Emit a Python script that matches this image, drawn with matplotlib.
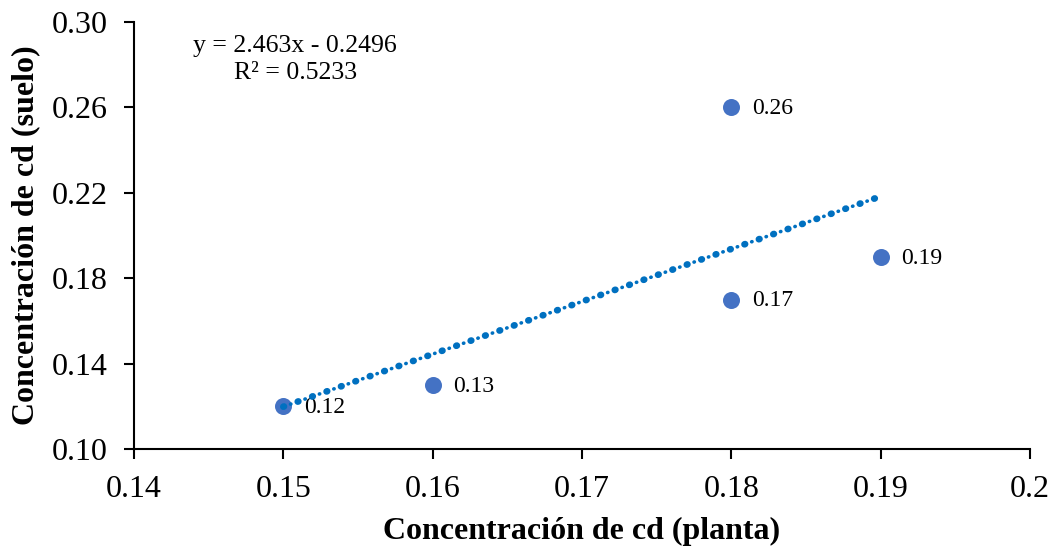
import numpy as np
from matplotlib import pyplot as plt

plt.rcParams['font.family'] = ['Liberation Serif', 'DejaVu Serif']

planta = [0.15, 0.16, 0.18, 0.18, 0.19]
suelo = [0.12, 0.13, 0.17, 0.26, 0.19]
etiquetas = ["0.12", "0.13", "0.17", "0.26", "0.19"]
xticks = [0.14, 0.15, 0.16, 0.17, 0.18, 0.19, 0.2]
xticklabels = ["0.14", "0.15", "0.16", "0.17", "0.18", "0.19", "0.2"]
yticks = [0.10, 0.14, 0.18, 0.22, 0.26, 0.30]
yticklabels = ["0.10", "0.14", "0.18", "0.22", "0.26", "0.30"]

fig = plt.figure(figsize=(10.53, 5.52), dpi=100)
ax = fig.add_axes([134 / 1053, 1 - 449 / 552, (1030 - 134) / 1053, (449 - 22) / 552])

ax.scatter(planta, suelo, s=150, color="#4472C4", zorder=3, linewidths=0)

# linea de tendencia (minimos cuadrados), puntos grandes y chicos alternados
m, b = np.polyfit(planta, suelo, 1)
xt = np.array([min(planta), max(planta)])
lw_big, lw_small = 4.8, 2.6
periodo = 11.0  # pt
ax.plot(xt, m * xt + b, color="#0070C0", linewidth=lw_big,
        linestyle=(0, (0.1, periodo / lw_big - 0.1)), dash_capstyle="round", zorder=4)
ax.plot(xt, m * xt + b, color="#0070C0", linewidth=lw_small,
        linestyle=(periodo / 2 / lw_small, (0.1, periodo / lw_small - 0.1)),
        dash_capstyle="round", zorder=4)

for x, y, t in zip(planta, suelo, etiquetas):
    ax.annotate(t, (x, y), xytext=(15, -1), textcoords="offset points",
                ha="left", va="center", fontsize=17)

ax.text(0.1508, 0.2888, f"y = {m:.3f}x - {abs(b):.4f}", ha="center", va="center", fontsize=18.5)
ax.text(0.1508, 0.2762, "R² = 0.5233", ha="center", va="center", fontsize=18.5)

ax.set_xlim(0.14, 0.2)
ax.set_ylim(0.10, 0.30)
ax.set_xticks(xticks)
ax.set_xticklabels(xticklabels)
ax.set_yticks(yticks)
ax.set_yticklabels(yticklabels)
ax.tick_params(axis="both", direction="out", length=7, width=1.5, labelsize=23)
ax.tick_params(axis="x", pad=12)
ax.tick_params(axis="y", pad=12)

ax.spines["top"].set_visible(False)
ax.spines["right"].set_visible(False)
ax.spines["left"].set_linewidth(1.5)
ax.spines["bottom"].set_linewidth(1.5)

ax.set_xlabel("Concentración de cd (planta)", fontsize=23, fontweight="bold", labelpad=9)
ax.set_ylabel("Concentración de cd (suelo)", fontsize=23, fontweight="bold", labelpad=8)

fig.savefig("out.png", dpi=100)
